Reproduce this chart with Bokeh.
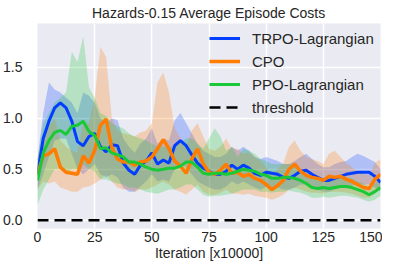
from bokeh.plotting import figure
from bokeh.models import Range1d, FixedTicker, PrintfTickFormatter
from bokeh.embed import file_html
from bokeh.resources import INLINE

# ---------------- data ----------------
iterations = [i * 2.5 for i in range(61)]  # x10000

trpo_mean = [0.45, 0.80, 0.97, 1.10, 1.15, 1.10, 0.97, 0.77, 0.73, 0.82,
             0.85, 0.72, 0.67, 0.74, 0.73, 0.56, 0.49, 0.45, 0.54, 0.58,
             0.66, 0.55, 0.59, 0.56, 0.73, 0.78, 0.73, 0.64, 0.56, 0.51,
             0.48, 0.45, 0.45, 0.48, 0.54, 0.50, 0.54, 0.51, 0.46, 0.44,
             0.47, 0.46, 0.45, 0.42, 0.41, 0.44, 0.48, 0.49, 0.45, 0.42,
             0.39, 0.39, 0.41, 0.43, 0.45, 0.46, 0.47, 0.47, 0.47, 0.43, 0.37]
trpo_low = [0.30, 0.45, 0.62, 0.78, 0.80, 0.80, 0.65, 0.50, 0.45, 0.50,
            0.55, 0.45, 0.42, 0.45, 0.42, 0.32, 0.28, 0.28, 0.33, 0.38,
            0.45, 0.38, 0.40, 0.38, 0.50, 0.55, 0.52, 0.45, 0.38, 0.35,
            0.32, 0.30, 0.30, 0.33, 0.38, 0.35, 0.38, 0.35, 0.32, 0.30,
            0.33, 0.32, 0.32, 0.30, 0.30, 0.32, 0.35, 0.35, 0.32, 0.30,
            0.28, 0.28, 0.30, 0.32, 0.33, 0.34, 0.35, 0.35, 0.35, 0.32, 0.28]
trpo_high = [0.60, 1.05, 1.35, 1.28, 1.25, 1.20, 1.15, 1.05, 1.25, 1.22,
             1.15, 1.00, 0.95, 1.00, 0.98, 0.80, 0.72, 0.66, 0.75, 0.80,
             0.90, 0.75, 0.80, 0.78, 0.98, 1.05, 0.95, 0.85, 0.75, 0.68,
             0.65, 0.62, 0.62, 0.65, 0.72, 0.68, 0.72, 0.68, 0.62, 0.60,
             0.62, 0.60, 0.58, 0.55, 0.55, 0.58, 0.62, 0.65, 0.60, 0.55,
             0.52, 0.52, 0.55, 0.57, 0.58, 0.62, 0.65, 0.63, 0.60, 0.57, 0.50]

cpo_mean = [0.45, 0.63, 0.65, 0.70, 0.52, 0.47, 0.46, 0.45, 0.63, 0.56,
            0.68, 0.93, 0.99, 0.71, 0.60, 0.57, 0.57, 0.54, 0.57, 0.58,
            0.62, 0.70, 0.79, 0.70, 0.58, 0.53, 0.46, 0.60, 0.70, 0.55,
            0.47, 0.45, 0.49, 0.55, 0.46, 0.47, 0.43, 0.45, 0.41, 0.39,
            0.35, 0.30, 0.34, 0.39, 0.50, 0.55, 0.48, 0.44, 0.42, 0.41,
            0.39, 0.43, 0.42, 0.43, 0.40, 0.38, 0.35, 0.32, 0.31, 0.40, 0.45]
cpo_low = [0.30, 0.38, 0.36, 0.38, 0.32, 0.30, 0.28, 0.28, 0.32, 0.33,
           0.36, 0.40, 0.45, 0.38, 0.32, 0.30, 0.30, 0.28, 0.30, 0.30,
           0.32, 0.35, 0.38, 0.35, 0.30, 0.28, 0.25, 0.30, 0.35, 0.28,
           0.25, 0.25, 0.27, 0.30, 0.26, 0.26, 0.25, 0.26, 0.24, 0.23,
           0.22, 0.20, 0.22, 0.25, 0.30, 0.32, 0.30, 0.28, 0.27, 0.27,
           0.26, 0.28, 0.28, 0.28, 0.27, 0.26, 0.24, 0.22, 0.22, 0.26, 0.30]
cpo_high = [0.60, 0.85, 0.92, 1.00, 0.78, 0.72, 0.68, 0.66, 0.95, 0.95,
            1.20, 1.70, 1.60, 1.00, 0.88, 0.85, 0.84, 0.82, 0.86, 0.88,
            0.95, 1.35, 1.45, 1.25, 0.90, 0.80, 0.72, 0.88, 0.95, 0.82,
            0.70, 0.68, 0.72, 0.80, 0.70, 0.70, 0.65, 0.66, 0.62, 0.58,
            0.52, 0.45, 0.50, 0.56, 0.72, 0.78, 0.68, 0.62, 0.60, 0.58,
            0.55, 0.65, 0.68, 0.62, 0.56, 0.52, 0.48, 0.45, 0.44, 0.56, 0.60]

ppo_mean = [0.39, 0.66, 0.78, 0.86, 0.88, 0.84, 0.92, 0.93, 0.97, 0.87,
            0.83, 0.70, 0.71, 0.66, 0.64, 0.62, 0.57, 0.57, 0.55, 0.52,
            0.50, 0.49, 0.50, 0.51, 0.51, 0.53, 0.57, 0.57, 0.52, 0.46,
            0.45, 0.46, 0.46, 0.45, 0.46, 0.48, 0.50, 0.49, 0.48, 0.45,
            0.44, 0.41, 0.41, 0.42, 0.42, 0.41, 0.39, 0.36, 0.32, 0.31,
            0.32, 0.31, 0.32, 0.33, 0.33, 0.32, 0.30, 0.28, 0.25, 0.28, 0.32]
ppo_low = [0.15, 0.30, 0.40, 0.50, 0.50, 0.45, 0.50, 0.50, 0.55, 0.50,
           0.48, 0.40, 0.40, 0.38, 0.36, 0.35, 0.32, 0.32, 0.30, 0.28,
           0.27, 0.26, 0.28, 0.30, 0.30, 0.32, 0.35, 0.35, 0.30, 0.25,
           0.23, 0.24, 0.24, 0.25, 0.26, 0.28, 0.30, 0.30, 0.30, 0.28,
           0.28, 0.27, 0.28, 0.28, 0.29, 0.28, 0.27, 0.25, 0.22, 0.22,
           0.23, 0.22, 0.23, 0.24, 0.24, 0.23, 0.22, 0.20, 0.18, 0.20, 0.24]
ppo_high = [0.60, 0.95, 1.05, 1.15, 1.20, 1.25, 1.65, 1.55, 1.80, 1.30,
            1.20, 1.05, 1.02, 0.95, 0.92, 0.90, 0.85, 0.82, 0.80, 0.78,
            0.75, 0.72, 0.72, 0.72, 0.72, 0.76, 0.80, 0.80, 0.75, 0.70,
            0.80, 0.90, 0.82, 0.68, 0.72, 0.62, 0.70, 0.68, 0.65, 0.60,
            0.58, 0.55, 0.55, 0.55, 0.55, 0.54, 0.50, 0.47, 0.42, 0.40,
            0.41, 0.40, 0.41, 0.42, 0.42, 0.41, 0.38, 0.36, 0.33, 0.36, 0.40]

threshold = 0.0

x_ticks = [0, 25, 50, 75, 100, 125, 150]
y_ticks = [0.0, 0.5, 1.0, 1.5]

title_text = "Hazards-0.15 Average Episode Costs"
x_label = "Iteration [x10000]"

# ---------------- figure ----------------
FONT = "Liberation Sans"
TXT = "#262626"
y_lo, y_hi = -0.081, 1.927

p = figure(width=382, height=264, output_backend="svg", toolbar_location=None,
           x_range=Range1d(x_ticks[0], x_ticks[-1]), y_range=Range1d(y_lo, y_hi),
           min_border_left=35, min_border_right=2, min_border_top=22,
           min_border_bottom=36,
           background_fill_color="#EAEAF2", border_fill_color="white",
           outline_line_color=None)

p.title.text = title_text
p.title.align = "center"
p.title.text_font = FONT
p.title.text_font_size = "14px"
p.title.text_font_style = "normal"
p.title.text_color = TXT
p.title.standoff = 5

series = [
    ("TRPO-Lagrangian", "#023eff", trpo_mean, trpo_low, trpo_high, 3),
    ("CPO", "#ff7c00", cpo_mean, cpo_low, cpo_high, 3.5),
    ("PPO-Lagrangian", "#1ac938", ppo_mean, ppo_low, ppo_high, 3),
]

for name, col, m, lo, hi, lw in series:
    p.varea(x=iterations, y1=lo, y2=hi, fill_color=col, fill_alpha=0.25)

for name, col, m, lo, hi, lw in series:
    p.line(iterations, m, line_color=col, line_width=lw, legend_label=name)

p.line([iterations[0], iterations[-1]], [threshold, threshold], line_color="black",
       line_width=2.5, line_dash="11 6", legend_label="threshold")

# grid / axes
p.xgrid.ticker = FixedTicker(ticks=x_ticks)
p.ygrid.ticker = FixedTicker(ticks=y_ticks)
for g in (p.xgrid, p.ygrid):
    g.grid_line_color = "white"
    g.grid_line_width = 1.5

p.xaxis.ticker = FixedTicker(ticks=x_ticks)
p.yaxis.ticker = FixedTicker(ticks=y_ticks)
p.yaxis.formatter = PrintfTickFormatter(format="%.1f")
for ax in (p.xaxis, p.yaxis):
    ax.axis_line_color = None
    ax.major_tick_line_color = None
    ax.minor_tick_line_color = None
    ax.major_tick_out = 0
    ax.major_tick_in = 0
    ax.minor_tick_out = 0
    ax.major_label_text_font = FONT
    ax.major_label_text_font_size = "14px"
    ax.major_label_text_color = TXT
p.xaxis.major_label_standoff = 3
p.yaxis.major_label_standoff = 15
p.xaxis.axis_label = x_label
p.xaxis.axis_label_text_font = FONT
p.xaxis.axis_label_text_font_size = "14px"
p.xaxis.axis_label_text_font_style = "normal"
p.xaxis.axis_label_text_color = TXT
p.xaxis.axis_label_standoff = 0

# legend
lg = p.legend[0]
lg.location = (172, 111)
lg.background_fill_alpha = 0
lg.border_line_alpha = 0
lg.padding = 0
lg.margin = 0
lg.spacing = 3
lg.label_height = 20
lg.glyph_height = 20
lg.glyph_width = 31
lg.label_standoff = 12
lg.label_text_font = FONT
lg.label_text_font_size = "15px"
lg.label_text_color = TXT

open("out.html", "w").write(file_html(p, INLINE))
